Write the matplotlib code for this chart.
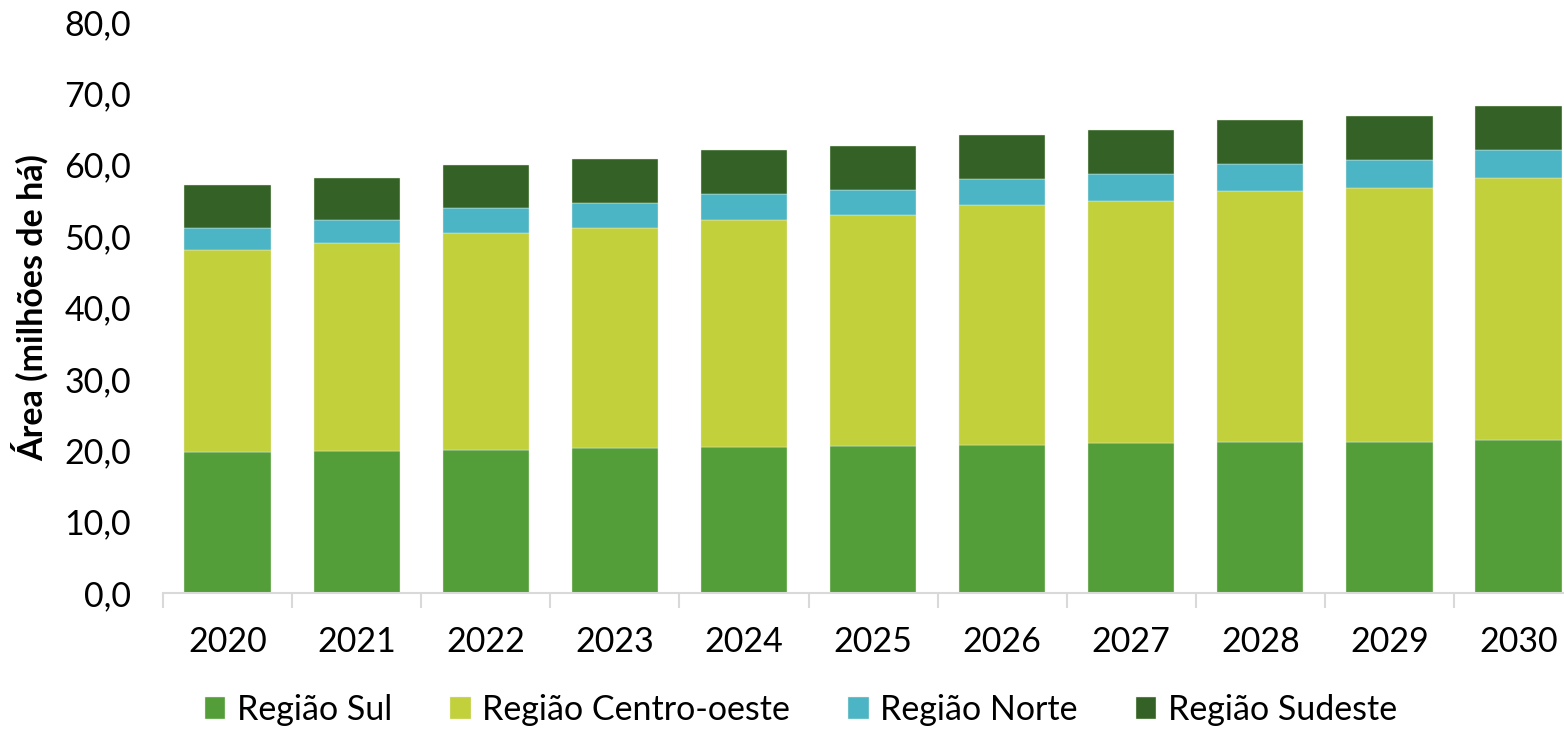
import matplotlib
matplotlib.use("Agg")
import matplotlib.pyplot as plt
import numpy as np
from matplotlib.ticker import FuncFormatter, FixedLocator

plt.rcParams['font.family'] = ['Lato', 'DejaVu Sans']

years = ["2020", "2021", "2022", "2023", "2024", "2025", "2026", "2027", "2028", "2029", "2030"]
sul = [19.7, 19.9, 20.0, 20.3, 20.4, 20.6, 20.8, 21.0, 21.1, 21.2, 21.4]
centro_oeste = [28.3, 29.1, 30.5, 30.9, 31.9, 32.3, 33.6, 33.9, 35.2, 35.6, 36.7]
norte = [3.2, 3.2, 3.4, 3.5, 3.6, 3.6, 3.6, 3.8, 3.8, 3.9, 4.0]
sudeste = [5.9, 6.0, 6.1, 6.1, 6.1, 6.1, 6.2, 6.1, 6.1, 6.1, 6.1]

series = [
    ("Região Sul", sul, "#539E39"),
    ("Região Centro-oeste", centro_oeste, "#C2D03B"),
    ("Região Norte", norte, "#4BB5C6"),
    ("Região Sudeste", sudeste, "#336126"),
]

fig = plt.figure(figsize=(15.64, 7.29), dpi=100)
ax = fig.add_axes([163/1564, 136/729, 129.1*11/1564, 571/729])

x = np.arange(len(years))
bottom = np.zeros(len(years))
for name, vals, col in series:
    ax.bar(x, vals, width=0.667, bottom=bottom, color=col, label=name,
           edgecolor="#E8EED8", linewidth=0.3)
    bottom += np.array(vals)

ax.set_xlim(-0.5, 10.5)
ax.set_ylim(0, 80)
ax.set_yticks(np.arange(0, 81, 10))
ax.yaxis.set_major_formatter(FuncFormatter(lambda v, p: f"{v:.1f}".replace(".", ",")))
ax.set_xticks(x)
ax.set_xticklabels(years)
ax.xaxis.set_minor_locator(FixedLocator(np.arange(-0.5, 10.6, 1.0)))

for s in ["top", "right", "left"]:
    ax.spines[s].set_visible(False)
ax.spines["bottom"].set_color("#D9D9D9")
ax.spines["bottom"].set_linewidth(1.5)

ax.tick_params(axis="y", length=0, pad=23, labelsize=24.5)
ax.tick_params(axis="x", which="major", length=0, pad=24, labelsize=24.5)
ax.tick_params(axis="x", which="minor", length=11, width=1.5, color="#D9D9D9", direction="out")

fig.text(30/1564, (729 - 307.5)/729, "Área (milhões de há)", rotation=90,
         ha="center", va="center", fontsize=24.5, fontweight="bold")

fig.legend(loc="center", bbox_to_anchor=(801/1564, 19/729), ncol=4, frameon=False,
           fontsize=24.5, handlelength=0.6, handleheight=0.6, handletextpad=0.35,
           columnspacing=1.7)

fig.savefig("out.png", dpi=100)
